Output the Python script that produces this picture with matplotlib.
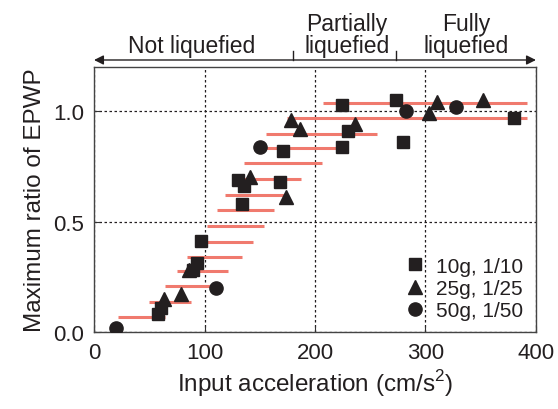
import matplotlib
matplotlib.use("Agg")
import matplotlib.pyplot as plt

plt.rcParams['font.family'] = ['Liberation Sans', 'DejaVu Sans']

# points
sq_x = [58, 61, 90, 93, 97, 130, 136, 134, 168, 171, 224, 224, 230, 273, 280, 380]
sq_y = [0.08, 0.11, 0.28, 0.31, 0.41, 0.69, 0.66, 0.58, 0.68, 0.82, 1.03, 0.84, 0.91, 1.05, 0.86, 0.97]

tri_x = [63, 79, 86, 141, 174, 178, 186, 236, 303, 310, 352]
tri_y = [0.15, 0.17, 0.28, 0.70, 0.61, 0.96, 0.92, 0.94, 0.99, 1.04, 1.05]

cir_x = [20, 110, 150, 282, 328]
cir_y = [0.02, 0.20, 0.84, 1.00, 1.02]

# red range bars (level, start, end)
bar_y = [0.067, 0.135, 0.206, 0.275, 0.339, 0.409, 0.482, 0.553, 0.622, 0.693,
         0.764, 0.832, 0.897, 0.968, 1.038]
bar_x0 = [22, 50, 64, 75, 84, 97, 102, 111, 119, 129, 136, 147, 156, 175, 207]
bar_x1 = [64, 88, 107, 121, 134, 144, 154, 163, 174, 187, 206, 229, 256, 392, 392]

zones = ['Not liquefied', 'Partially\nliquefied', 'Fully\nliquefied']
zone_x = [88, 229, 337]
zone_edges = [180, 273]

fig = plt.figure(figsize=(5.58, 4.10), dpi=100)
ax = fig.add_axes([0.1685, 0.188, 0.792, 0.646])

ax.hlines(bar_y, bar_x0, bar_x1, colors='#f07a6e', linewidth=2.2, zorder=2)

ax.plot(sq_x, sq_y, 's', color='#231f20', markersize=9, label='10g, 1/10', zorder=3)
ax.plot(tri_x, tri_y, '^', color='#231f20', markersize=10, label='25g, 1/25', zorder=3)
ax.plot(cir_x, cir_y, 'o', color='#231f20', markersize=9.5, label='50g, 1/50', zorder=3)

ax.set_xlim(0, 400)
ax.set_ylim(0, 1.2)
ax.set_xticks([0, 100, 200, 300, 400])
ax.set_yticks([0.0, 0.5, 1.0])
ax.set_yticklabels(['0.0', '0.5', '1.0'])
ax.tick_params(direction='in', labelsize=16, length=4, colors='#333333',
               labelcolor='#231f20', pad=7)
ax.grid(True, linestyle=(0, (2, 2)), color='#231f20', linewidth=0.9)
ax.set_axisbelow(True)
for s in ax.spines.values():
    s.set_color('#444444')
    s.set_linewidth(1.0)

ax.set_xlabel('Input acceleration (cm/s$^{\\mathregular{2}}$)', fontsize=17.5,
              color='#231f20', labelpad=3)
ax.set_ylabel('Maximum ratio of EPWP', fontsize=17.5, color='#231f20', labelpad=5)

leg = ax.legend(loc='lower right', frameon=False, fontsize=15, handlelength=1.0,
                handletextpad=0.5, labelspacing=0.15, borderaxespad=0.3,
                bbox_to_anchor=(1.004, -0.01))
for t in leg.get_texts():
    t.set_color('#231f20')

# zone annotation above the axes
ya = 1.232
ax.annotate('', xy=(0, ya), xytext=(400, ya), annotation_clip=False,
            arrowprops=dict(arrowstyle='<|-|>', color='#231f20', lw=1.0,
                            mutation_scale=14, shrinkA=0, shrinkB=0))
for xe in zone_edges:
    ax.plot([xe, xe], [ya, ya + 0.04], color='#231f20', lw=1.0, clip_on=False)
for name, xz in zip(zones, zone_x):
    ax.text(xz, ya + 0.012, name, ha='center', va='bottom', fontsize=16.5,
            color='#231f20', linespacing=0.95)

fig.savefig('out.png', dpi=100)
